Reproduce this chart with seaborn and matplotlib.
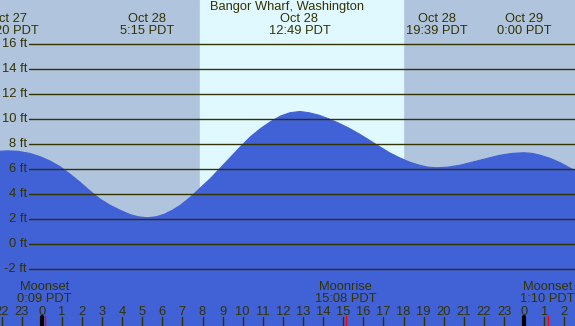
import numpy as np
import pandas as pd
import matplotlib
matplotlib.use("Agg")
import matplotlib.pyplot as plt
import matplotlib.transforms as mtransforms
import seaborn as sns

# tide curve (hours since Oct 28 0:00, feet)
hours = [-2.1, -1.7, -1.2, -0.6, -0.1, 0.4, 0.9, 1.4, 1.9, 2.4, 2.9, 3.4, 3.9, 4.4,
         4.8, 5.25, 5.7, 6.1, 6.5, 6.9, 7.4, 7.9, 8.4, 8.9, 9.4, 9.9, 10.4, 10.9,
         11.4, 11.9, 12.35, 12.85, 13.3, 13.8, 14.3, 14.8, 15.3, 15.8, 16.3, 16.8,
         17.3, 17.8, 18.3, 18.8, 19.2, 19.65, 20.2, 20.8, 21.3, 21.8, 22.3, 22.8,
         23.4, 24.0, 24.4, 24.8, 25.3, 25.8, 26.2, 26.6]
heights = [7.42, 7.45, 7.42, 7.25, 7.0, 6.65, 6.2, 5.6, 4.95, 4.25, 3.6, 3.1, 2.7, 2.35,
           2.18, 2.1, 2.18, 2.38, 2.7, 3.1, 3.75, 4.5, 5.25, 6.1, 6.95, 7.8, 8.6, 9.25,
           9.8, 10.25, 10.5, 10.6, 10.5, 10.3, 10.0, 9.65, 9.25, 8.8, 8.3, 7.8,
           7.3, 6.9, 6.55, 6.3, 6.15, 6.1, 6.15, 6.3, 6.5, 6.7, 6.9, 7.1,
           7.25, 7.3, 7.25, 7.1, 6.85, 6.5, 6.15, 5.8]

# high / low tide labels on top
tide_hours = [-1.67, 5.25, 12.82, 19.65, 24.0]
tide_labels = ["Oct 27\n22:20 PDT", "Oct 28\n5:15 PDT", "Oct 28\n12:49 PDT",
               "Oct 28\n19:39 PDT", "Oct 29\n0:00 PDT"]

# moon events at the bottom
moon_hours = [0.15, 15.13, 25.17]
moon_labels = ["Moonset\n0:09 PDT", "Moonrise\n15:08 PDT", "Moonset\n1:10 PDT"]

sunrise, sunset = 7.88, 17.97
ft_levels = [-2, 0, 2, 4, 6, 8, 10, 12, 14, 16]
hour_ticks = list(range(-2, 27))

night = "#b0c4de"
day = "#e0f8ff"
water = "#4161d6"
ink = "#333300"

sns.set_style("white")
plt.rcParams['font.family'] = ['Liberation Sans', 'DejaVu Sans']

fig = plt.figure(figsize=(5.75, 3.26), dpi=100)
ax = fig.add_axes([0, 0, 1, 1])
ax.set_xlim(-2.075, 26.53)
ax.set_ylim(-6.56, 19.52)
ax.set_facecolor(night)
ax.axvspan(sunrise, sunset, color=day, zorder=0)

df = pd.DataFrame({"hour": hours, "ft": heights})
ax.fill_between(df["hour"], df["ft"], -10, color=water, zorder=1, lw=0)
sns.lineplot(data=df, x="hour", y="ft", ax=ax, color=water, lw=0.8, zorder=1)

fs = 9.3
for lv in ft_levels:
    ax.axhline(lv, xmin=29 / 575, xmax=1, color=ink, lw=1, zorder=2)
    ax.annotate(f"{lv} ft", xy=(27, lv), xycoords=("figure pixels", "data"),
                ha="right", va="center", fontsize=fs, color=ink)

ax.text(0.5, 1 - 7 / 326, "Bangor Wharf, Washington", transform=ax.transAxes,
        ha="center", va="center", fontsize=fs, color=ink)
for h, lab in zip(tide_hours, tide_labels):
    ax.annotate(lab, xy=(h, 326 - 24.5), xycoords=("data", "figure pixels"),
                ha="center", va="center", fontsize=fs, color=ink, linespacing=1.0)

for h, lab in zip(moon_hours, moon_labels):
    ax.annotate(lab, xy=(h, 326 - 293.5), xycoords=("data", "figure pixels"),
                ha="center", va="center", fontsize=fs, color=ink, linespacing=1.0)

trans = mtransforms.blended_transform_factory(ax.transData, fig.transFigure)
for h in hour_ticks:
    ax.annotate(str(h % 24), xy=(h, 326 - 312), xycoords=("data", "figure pixels"),
                ha="center", va="center", fontsize=fs, color=ink)
    ax.plot([h, h], [0, 9 / 326], transform=trans, color=ink, lw=1, zorder=3)
for h in [0, 24]:
    ax.plot([h, h], [0, 9 / 326], transform=trans, color="black", lw=3, zorder=3)
for h in moon_hours:
    ax.plot([h, h], [0, 10 / 326], transform=trans, color="red", lw=1, zorder=3)

ax.set_xticks([])
ax.set_yticks([])
ax.set_xlabel("")
ax.set_ylabel("")
for s in ax.spines.values():
    s.set_visible(False)

fig.savefig("out.png", dpi=100)
